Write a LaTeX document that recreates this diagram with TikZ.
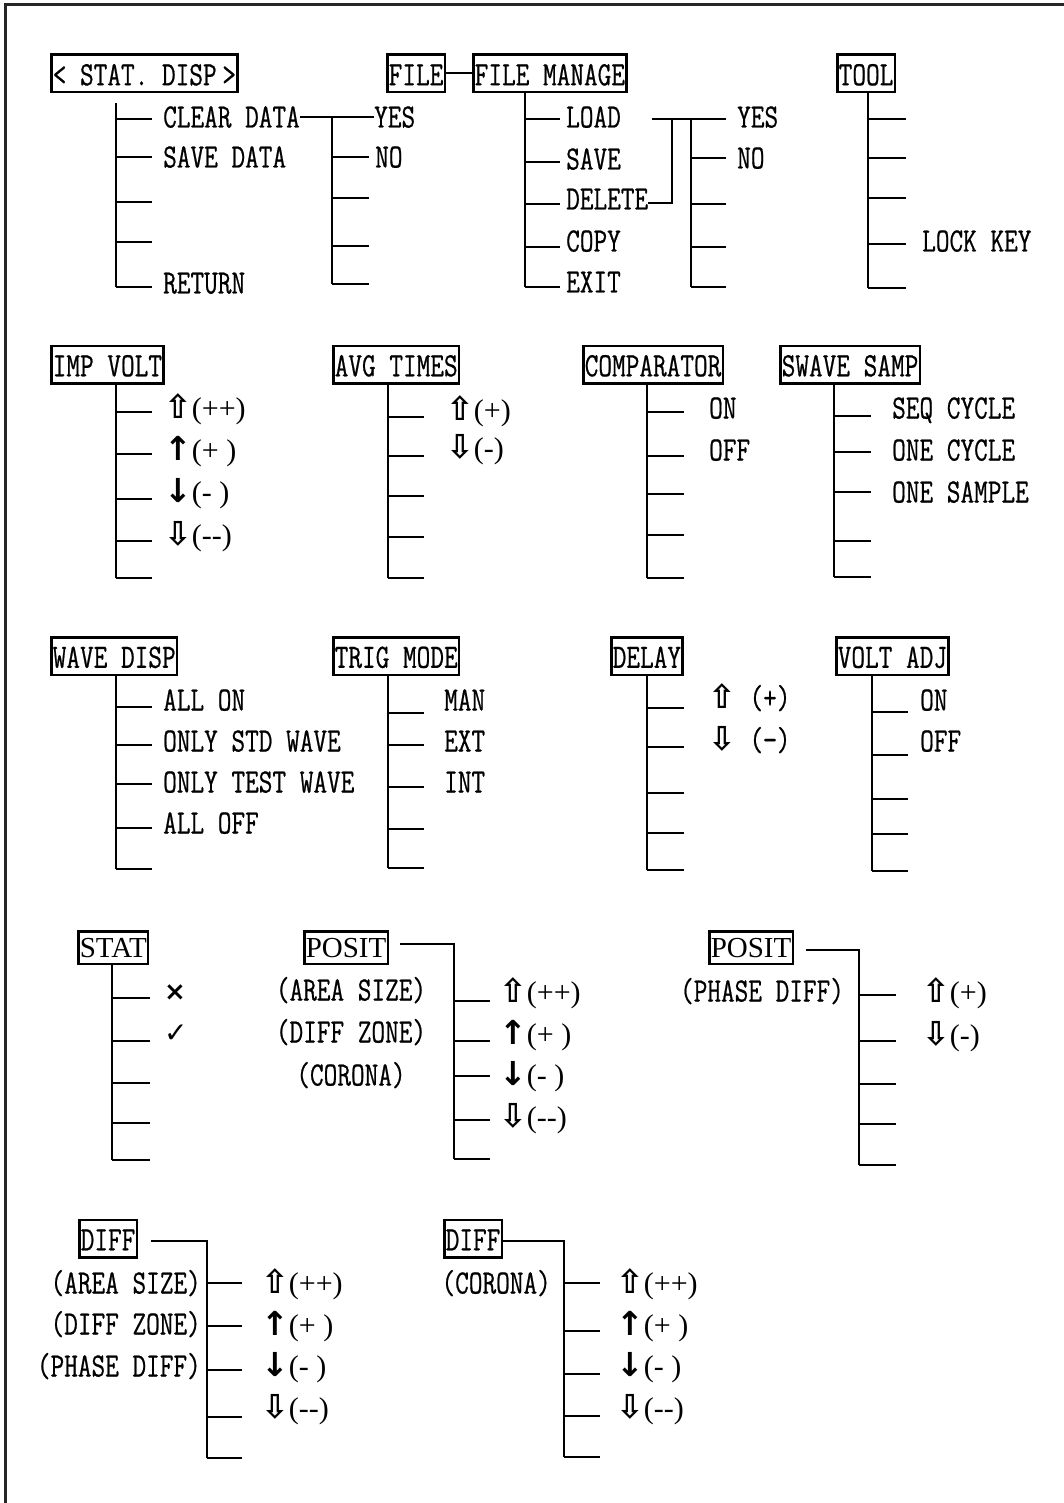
\documentclass[tikz,border=0pt]{standalone}
\usepackage{fontspec}
\newfontfamily\menufont[FakeStretch=0.78,FakeBold=0.6]{Latin Modern Mono}
\newfontfamily\romfont{Liberation Serif}
\newfontfamily\arrowfont{DejaVu Sans}

\newcommand\menusize{\fontsize{34}{36}\selectfont}
\newcommand\romsize{\fontsize{30}{32}\selectfont}
\newcommand\arrsize{\fontsize{33}{35}\selectfont}

\newcommand\wup{{\arrowfont\bfseries\arrsize ⇧}}
\newcommand\wdown{{\arrowfont\bfseries\arrsize ⇩}}
\newcommand\bup{{\arrowfont\bfseries\arrsize ↑}}
\newcommand\bdown{{\arrowfont\bfseries\arrsize ↓}}

\tikzset{
  menubox/.style={draw, line width=2.5pt, anchor=west, inner sep=1.5pt,
    text height=29pt, text depth=5.5pt, font=\menufont\menusize},
  rombox/.style={draw, line width=2.5pt, anchor=west, inner sep=1.5pt,
    text height=24.5pt, text depth=5pt, font=\romfont\fontsize{29}{31}\selectfont},
  item/.style={anchor=west, inner sep=0pt, text height=21pt, text depth=0pt,
    font=\menufont\menusize},
  keyitem/.style={item, font=\romfont\romsize},
  stem/.style={line width=2pt},
}

\begin{document}
\begin{tikzpicture}[x=1pt,y=-1pt]
\useasboundingbox (0,0) rectangle (1064,1503);
\draw[line width=3pt, black!85] (5,1503) -- (5,5) -- (1064,5);

% statistics display
\node[menubox] (statdisp) at (50,73.5) {< STAT. DISP\,>};
\coordinate (statdisp-top) at (116,103);
\coordinate (statdisp-end) at (116,287);
\draw[stem] (statdisp-top) -- (statdisp-end);
\foreach \y in {119,157,202,242,287} \draw[stem] (statdisp-end |- 0,\y) -- ++(36,0);
\node[item] (cleardata) at (163,117) {CLEAR DATA};
\node[item] (savedata) at (163,157) {SAVE DATA};
\node[item] (return) at (163,283) {RETURN};

\node[item] (clr-yes) at (374,117) {YES};
\node[item] (clr-no) at (375,157) {NO};
\coordinate (clr-end) at (332,284);
\draw[stem] (cleardata.east) -- (clr-yes.west);
\draw[stem] (clr-end |- cleardata) -- (clr-end);
\foreach \y in {157,198,246,284} \draw[stem] (clr-end |- 0,\y) -- ++(37,0);

% file
\node[menubox] (file) at (386,73.5) {FILE};
\node[menubox] (filemanage) at (472,73.5) {FILE MANAGE};
\draw[stem] (file) -- (filemanage);
\coordinate (fm-end) at (525,287);
\draw[stem] (fm-end |- filemanage.south) -- (fm-end);
\foreach \y in {119,162,204,247,287} \draw[stem] (fm-end |- 0,\y) -- ++(35,0);
\node[item] (load) at (566,117) {LOAD};
\node[item] (save) at (566,159) {SAVE};
\node[item] (delete) at (566,199) {DELETE};
\node[item] (copy) at (566,241) {COPY};
\node[item] (exit) at (566,282) {EXIT};

\coordinate (fm-a) at (652,119);
\coordinate (fm-b) at (726,119);
\coordinate (fm-j1) at (672,119);
\coordinate (fm-end2) at (691,287);
\draw[stem] (fm-a) -- (fm-b);
\draw[stem] (fm-j1) |- ([yshift=-4pt]delete.east);
\draw[stem] (fm-end2 |- fm-j1) -- (fm-end2);
\foreach \y in {158,204,247,287} \draw[stem] (fm-end2 |- 0,\y) -- ++(35,0);
\node[item] (fm-yes) at (737,117) {YES};
\node[item] (fm-no) at (737,158) {NO};

% tool
\node[menubox] (tool) at (836,73.5) {TOOL};
\coordinate (tool-end) at (868,288);
\draw[stem] (tool-end |- tool.south) -- (tool-end);
\foreach \y in {119,158,198,244,288} \draw[stem] (tool-end |- 0,\y) -- ++(38,0);
\node[item] (lockkey) at (922,241) {LOCK KEY};

% impulse voltage
\node[menubox] (impvolt) at (50,364.5) {IMP VOLT};
\coordinate (impvolt-end) at (116,578);
\draw[stem] (impvolt-end |- impvolt.south) -- (impvolt-end);
\foreach \y in {412,454,499,541,578} \draw[stem] (impvolt-end |- 0,\y) -- ++(36,0);
\node[keyitem] (impvolt-1) at (164,408) {\wup(++)};
\node[keyitem] (impvolt-2) at (164,450) {\bup(+ )};
\node[keyitem] (impvolt-3) at (164,492) {\bdown(- )};
\node[keyitem] (impvolt-4) at (164,535) {\wdown(-{}-)};

% average times
\node[menubox] (avgtimes) at (332,364.5) {AVG TIMES};
\coordinate (avg-end) at (388,578);
\draw[stem] (avg-end |- avgtimes.south) -- (avg-end);
\foreach \y in {417,456,496,537,578} \draw[stem] (avg-end |- 0,\y) -- ++(36,0);
\node[keyitem] (avg-1) at (446,410) {\wup(+)};
\node[keyitem] (avg-2) at (446,448) {\wdown(-)};

% comparator
\node[menubox] (comp) at (582,364.5) {COMPARATOR};
\coordinate (comp-end) at (647,578);
\draw[stem] (comp-end |- comp.south) -- (comp-end);
\foreach \y in {412,456,494,535,578} \draw[stem] (comp-end |- 0,\y) -- ++(37,0);
\node[item] (comp-on) at (709,408) {ON};
\node[item] (comp-off) at (709,450) {OFF};

% wave sampling
\node[menubox] (swave) at (779,364.5) {SWAVE SAMP};
\coordinate (swave-end) at (834,577);
\draw[stem] (swave-end |- swave.south) -- (swave-end);
\foreach \y in {416,452,492,541,577} \draw[stem] (swave-end |- 0,\y) -- ++(37,0);
\node[item] (swave-1) at (892,408) {SEQ CYCLE};
\node[item] (swave-2) at (892,450) {ONE CYCLE};
\node[item] (swave-3) at (892,492) {ONE SAMPLE};

% wave display
\node[menubox] (wavedisp) at (50,656) {WAVE DISP};
\coordinate (wave-end) at (116,869);
\draw[stem] (wave-end |- wavedisp.south) -- (wave-end);
\foreach \y in {707,745,784,828,869} \draw[stem] (wave-end |- 0,\y) -- ++(36,0);
\node[item] (wave-1) at (163,700) {ALL ON};
\node[item] (wave-2) at (163,741) {ONLY STD WAVE};
\node[item] (wave-3) at (163,782) {ONLY TEST WAVE};
\node[item] (wave-4) at (163,823) {ALL OFF};

% trigger mode
\node[menubox] (trigmode) at (332,656) {TRIG MODE};
\coordinate (trig-end) at (388,868);
\draw[stem] (trig-end |- trigmode.south) -- (trig-end);
\foreach \y in {713,745,787,829,868} \draw[stem] (trig-end |- 0,\y) -- ++(36,0);
\node[item] (trig-1) at (444,700) {MAN};
\node[item] (trig-2) at (444,741) {EXT};
\node[item] (trig-3) at (444,782) {INT};

% delay
\node[menubox] (delay) at (610,656) {DELAY};
\coordinate (delay-end) at (647,870);
\draw[stem] (delay-end |- delay.south) -- (delay-end);
\foreach \y in {708,747,793,833,870} \draw[stem] (delay-end |- 0,\y) -- ++(37,0);
\node[item] (delay-1) at (708,698) {\wup\ (+)};
\node[item] (delay-2) at (708,740) {\wdown\ (−)};

% voltage adjust
\node[menubox] (voltadj) at (835,656) {VOLT ADJ};
\coordinate (voltadj-end) at (872,871);
\draw[stem] (voltadj-end |- voltadj.south) -- (voltadj-end);
\foreach \y in {712,755,799,834,871} \draw[stem] (voltadj-end |- 0,\y) -- ++(36,0);
\node[item] (voltadj-on) at (920,700) {ON};
\node[item] (voltadj-off) at (920,741) {OFF};

% statistics
\node[rombox] (stat) at (77,947.5) {STAT};
\coordinate (stat-end) at (112,1160);
\draw[stem] (stat-end |- stat.south) -- (stat-end);
\foreach \y in {998,1041,1083,1123,1160} \draw[stem] (stat-end |- 0,\y) -- ++(38,0);
\node[item, font=\arrowfont\bfseries\fontsize{26}{28}\selectfont] (stat-x) at (164,990) {×};
\node[item, font=\arrowfont\fontsize{28}{30}\selectfont] (stat-ok) at (164,1032) {✓};

% position
\node[rombox] (posit) at (303,947.5) {POSIT};
\coordinate (posit-a) at (400,944);
\coordinate (posit-end) at (454,1159);
\draw[stem] (posit-a) -- (posit-end |- posit-a) -- (posit-end);
\foreach \y in {1001,1041,1076,1120,1159} \draw[stem] (posit-end |- 0,\y) -- ++(36,0);
\node[keyitem] (posit-1) at (499,992) {\wup(++)};
\node[keyitem] (posit-2) at (499,1034) {\bup(+ )};
\node[keyitem] (posit-3) at (499,1075) {\bdown(- )};
\node[keyitem] (posit-4) at (499,1117) {\wdown(-{}-)};
\node[item, anchor=center] (posit-area) at (351,990) {(AREA SIZE)};
\node[item, anchor=center] (posit-zone) at (351,1032) {(DIFF ZONE)};
\node[item, anchor=center] (posit-corona) at (351,1075) {(CORONA)};

% position, phase
\node[rombox] (posit2) at (708,947.5) {POSIT};
\coordinate (posit2-a) at (806,950);
\coordinate (posit2-end) at (859,1165);
\draw[stem] (posit2-a) -- (posit2-end |- posit2-a) -- (posit2-end);
\foreach \y in {995,1041,1084,1124,1165} \draw[stem] (posit2-end |- 0,\y) -- ++(37,0);
\node[keyitem] (posit2-1) at (922,992) {\wup(+)};
\node[keyitem] (posit2-2) at (922,1035) {\wdown(-)};
\node[item, anchor=center] (posit2-phase) at (762,991) {(PHASE DIFF)};

% difference
\node[menubox] (diff) at (78,1238.5) {DIFF};
\coordinate (diff-a) at (151,1241);
\coordinate (diff-end) at (207,1458);
\draw[stem] (diff-a) -- (diff-end |- diff-a) -- (diff-end);
\foreach \y in {1283,1326,1370,1417,1458} \draw[stem] (diff-end |- 0,\y) -- ++(35,0);
\node[keyitem] (diff-1) at (261,1283) {\wup(++)};
\node[keyitem] (diff-2) at (261,1325) {\bup(+ )};
\node[keyitem] (diff-3) at (261,1366) {\bdown(- )};
\node[keyitem] (diff-4) at (261,1408) {\wdown(-{}-)};
\node[item, anchor=east] (diff-area) at (201,1283) {(AREA SIZE)};
\node[item, anchor=east] (diff-zone) at (201,1324) {(DIFF ZONE)};
\node[item, anchor=east] (diff-phase) at (201,1366) {(PHASE DIFF)};

% difference, corona
\node[menubox] (diff2) at (443,1238.5) {DIFF};
\coordinate (diff2-end) at (564,1457);
\draw[stem] (diff2.east |- 0,1241) -- (diff2-end |- 0,1241) -- (diff2-end);
\foreach \y in {1283,1331,1374,1416,1457} \draw[stem] (diff2-end |- 0,\y) -- ++(36,0);
\node[keyitem] (diff2-1) at (616,1283) {\wup(++)};
\node[keyitem] (diff2-2) at (616,1325) {\bup(+ )};
\node[keyitem] (diff2-3) at (616,1366) {\bdown(- )};
\node[keyitem] (diff2-4) at (616,1408) {\wdown(-{}-)};
\node[item, anchor=east] (diff2-corona) at (551,1283) {(CORONA)};
\end{tikzpicture}
\end{document}
